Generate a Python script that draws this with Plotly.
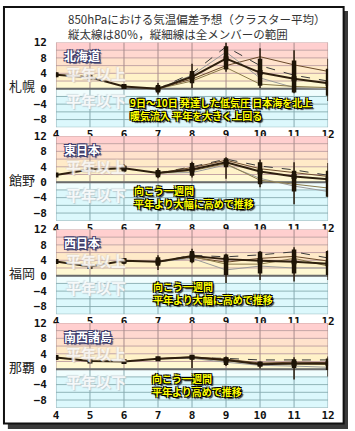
import plotly.graph_objects as go

W, H = 355, 431
days = [4, 5, 6, 7, 8, 9, 10, 11, 12]
cl_days = [7, 8, 9, 10, 11, 12]

regions = ["北海道", "東日本", "西日本", "南西諸島"]
stations = ["札幌", "館野", "福岡", "那覇"]

# cluster-average (main) lines
main_sapporo = [3.6, 3.0, 0.6, 0.0, 3.1, 7.8, 4.2, 2.6, 1.4]
main_tateno = [1.9, 3.3, 3.6, 2.4, 3.3, 5.2, 2.8, 1.5, 0.8]
main_fukuoka = [3.7, 2.4, 3.9, 3.6, 5.1, 4.3, 3.9, 3.6, 3.1]
main_naha = [3.0, 2.1, 2.0, 2.7, 3.1, 2.4, 1.3, 1.5, 1.5]

# full member range (thin vertical lines)
full_lo_sapporo = [3.0, 2.6, 0.0, -1.5, 0.2, 4.4, 0.2, -1.2, -3.2]
full_hi_sapporo = [4.3, 3.5, 1.2, 1.5, 6.5, 12.0, 10.5, 10.0, 7.8]
full_lo_tateno = [1.6, 2.9, 2.4, 1.0, 1.2, 0.9, -1.3, -5.7, -3.9]
full_hi_tateno = [2.1, 3.7, 4.6, 3.6, 5.3, 6.5, 5.9, 5.2, 5.0]
full_lo_fukuoka = [3.5, 2.1, 3.0, 1.5, 3.2, -1.9, -1.1, -1.5, -1.1]
full_hi_fukuoka = [3.9, 2.7, 4.6, 5.3, 7.0, 5.7, 6.4, 7.4, 6.6]
full_lo_naha = [2.8, 1.9, 1.8, 2.2, 0.3, 0.8, 0.2, -2.7, -1.9]
full_hi_naha = [3.2, 2.3, 2.2, 3.2, 3.6, 3.3, 2.0, 3.1, 3.3]

# 80% range (thick vertical bars)
p80_lo_sapporo = [3.2, 2.8, 0.2, -1.0, 1.4, 5.0, 0.8, -1.0, -1.8]
p80_hi_sapporo = [4.1, 3.3, 1.0, 1.0, 4.6, 11.0, 7.8, 7.3, 5.2]
p80_lo_tateno = [1.8, 3.0, 2.7, 1.3, 1.7, 3.9, -0.5, -2.4, -3.8]
p80_hi_tateno = [2.0, 3.5, 4.3, 3.2, 5.0, 6.2, 5.2, 3.0, 3.0]
p80_lo_fukuoka = [3.6, 2.2, 3.1, 2.6, 3.5, 0.2, 0.6, 0.6, 0.2]
p80_hi_fukuoka = [3.8, 2.6, 4.5, 4.8, 6.4, 5.5, 6.2, 6.8, 6.4]
p80_lo_naha = [2.9, 2.0, 1.9, 2.4, 2.6, 1.1, 0.8, 0.3, -0.2]
p80_hi_naha = [3.1, 2.2, 2.1, 3.0, 3.6, 3.1, 1.9, 2.6, 2.8]

# other cluster-average lines (days 7-12)
clA_sapporo = [0.0, 4.0, 10.9, 6.0, 3.5, 2.0]
clB_sapporo = [0.0, 2.5, 6.0, 8.3, 6.2, 4.5]
clC_sapporo = [0.0, 3.5, 9.5, 2.8, 0.3, 0.0]
clD_sapporo = [0.0, 2.0, 5.5, 1.2, 0.6, 0.3]
clA_tateno = [2.4, 4.0, 6.0, 4.2, 3.2, 1.8]
clB_tateno = [2.4, 3.8, 5.7, 3.5, 2.5, 1.5]
clC_tateno = [2.4, 2.5, 4.5, 1.0, -1.0, -2.4]
clD_tateno = [2.4, 3.0, 4.8, 0.5, -0.5, -1.5]
clA_fukuoka = [3.6, 5.3, 4.9, 5.4, 6.2, 4.6]
clB_fukuoka = [3.6, 4.8, 3.5, 4.5, 5.0, 3.8]
clC_fukuoka = [3.6, 4.5, 1.5, 2.5, 2.0, 2.0]
clD_fukuoka = [3.6, 5.0, 3.0, 3.0, 4.5, 2.5]
clA_naha = [2.7, 3.0, 2.8, 2.4, 2.4, 2.4]
clB_naha = [2.7, 3.2, 2.6, 1.6, 1.8, 1.7]
clC_naha = [2.7, 2.8, 1.8, 1.0, 0.8, 0.5]
clD_naha = [2.7, 3.1, 2.2, 1.4, 1.3, 1.2]

notes = [
    ["9日～10日 発達した低気圧 日本海を北上", "暖気流入 平年を大きく上回る"],
    ["向こう一週間", "平年より大幅に高めで推移"],
    ["向こう一週間", "平年より大幅に高めで推移"],
    ["向こう一週間", "平年より高めで推移"],
]
title_lines = ["850hPaにおける気温偏差予想（クラスター平均）", "縦太線は80％，縦細線は全メンバーの範囲"]

ytick_vals = [12, 8, 4, 0, -4, -8]
ytick_text = ["12", "8", "4", "0", "−4", "−8"]

panels = [
    dict(main=main_sapporo, flo=full_lo_sapporo, fhi=full_hi_sapporo, plo=p80_lo_sapporo, phi=p80_hi_sapporo,
         cl=[clA_sapporo, clB_sapporo, clC_sapporo, clD_sapporo]),
    dict(main=main_tateno, flo=full_lo_tateno, fhi=full_hi_tateno, plo=p80_lo_tateno, phi=p80_hi_tateno,
         cl=[clA_tateno, clB_tateno, clC_tateno, clD_tateno]),
    dict(main=main_fukuoka, flo=full_lo_fukuoka, fhi=full_hi_fukuoka, plo=p80_lo_fukuoka, phi=p80_hi_fukuoka,
         cl=[clA_fukuoka, clB_fukuoka, clC_fukuoka, clD_fukuoka]),
    dict(main=main_naha, flo=full_lo_naha, fhi=full_hi_naha, plo=p80_lo_naha, phi=p80_hi_naha,
         cl=[clA_naha, clB_naha, clC_naha, clD_naha]),
]

# ---- layout geometry (pixels) ----
X0, X1 = 54.5, 334.5
tops = [37.0, 131.8, 226.6, 321.4]
PH = 86.0
YMIN, YMAX = -10, 12


def pxx(x):
    return x / W


def pxy(y):
    return 1 - y / H


cl_styles = [
    dict(color="#3a3a3a", width=1, dash="dash"),
    dict(color="#6b4a2a", width=1),
    dict(color="#9a9a9a", width=1),
    dict(color="#8a7a4a", width=1),
]

bands = [
    (10, 12, "#ffcfcf"), (8, 10, "#ffd8d0"), (6, 8, "#ffe2cc"), (4, 6, "#ffeac8"),
    (2, 4, "#fff2c8"), (0, 2, "#fff8d2"), (-2, 0, "#f0fdfd"), (-10, -2, "#dcf8fc"),
]

fig = go.Figure()
shapes = []
annotations = []
JP = "Noto Sans CJK JP"
NUMF = "DejaVu Sans Mono"

# frame with shadow
shapes.append(dict(type="rect", xref="paper", yref="paper", x0=pxx(350.5), x1=pxx(355), y0=pxy(5), y1=pxy(429),
                   fillcolor="#3a3a3a", line=dict(width=0), layer="below"))
shapes.append(dict(type="rect", xref="paper", yref="paper", x0=pxx(5), x1=pxx(355), y0=pxy(423.5), y1=pxy(429),
                   fillcolor="#3a3a3a", line=dict(width=0), layer="below"))
shapes.append(dict(type="rect", xref="paper", yref="paper", x0=pxx(1), x1=pxx(350.5), y0=pxy(1), y1=pxy(423.5),
                   fillcolor="rgba(0,0,0,0)", line=dict(color="#111", width=2), layer="above"))

for i, p in enumerate(panels):
    n = i + 1
    xa, ya = f"x{n}" if n > 1 else "x", f"y{n}" if n > 1 else "y"
    top = tops[i]
    bot = top + PH
    fig.update_layout(**{
        f"xaxis{n if n > 1 else ''}": dict(
            domain=[pxx(X0), pxx(X1)], range=[4, 12], anchor=ya, tickvals=days,
            ticktext=[str(d) for d in days], showgrid=False, zeroline=False, showline=False,
            ticks="", ticklabelstandoff=-1,
            tickfont=dict(family=NUMF, size=11, color="#111", weight="bold"), fixedrange=True),
        f"yaxis{n if n > 1 else ''}": dict(
            domain=[pxy(bot), pxy(top)], range=[YMIN, YMAX], anchor=xa, tickvals=ytick_vals,
            ticktext=ytick_text, showgrid=False, zeroline=False, showline=False, ticks="",
            ticklabelstandoff=8,
            tickfont=dict(family=NUMF, size=11, color="#111", weight="bold"), fixedrange=True),
    })
    for (lo, hi, c) in bands:
        shapes.append(dict(type="rect", xref=xa, yref=ya, x0=4, x1=12, y0=lo, y1=hi, fillcolor=c,
                           line=dict(width=0), layer="below"))
    for v in range(-10, 13, 2):
        col = "#c4a4a4" if v > 0 else "#90b4b8"
        shapes.append(dict(type="line", xref=xa, yref=ya, x0=4, x1=12, y0=v, y1=v,
                           line=dict(color=col, width=1), layer="below"))
    for d in days:
        shapes.append(dict(type="line", xref=xa, yref=ya, x0=d, x1=d, y0=0, y1=12,
                           line=dict(color="#a88c8c", width=1), layer="below"))
        shapes.append(dict(type="line", xref=xa, yref=ya, x0=d, x1=d, y0=-10, y1=0,
                           line=dict(color="#88aab0", width=1), layer="below"))
    shapes.append(dict(type="line", xref=xa, yref=ya, x0=4, x1=12, y0=0, y1=0,
                       line=dict(color="#6a6a6a", width=2), layer="below"))

    # watermark texts
    annotations.append(dict(text="<b>平年以上</b>", x=pxx(63), y=pxy(top + 31), xref="paper", yref="paper",
                            xanchor="left", yanchor="middle", showarrow=False,
                            font=dict(family=JP, size=15, color="rgba(255,255,255,0.75)",
                                      shadow="1px 1px 1px #d0c4b8, -1px -1px 1px #e0d8cc")))
    annotations.append(dict(text="<b>平年以下</b>", x=pxx(63), y=pxy(top + 59), xref="paper", yref="paper",
                            xanchor="left", yanchor="middle", showarrow=False,
                            font=dict(family=JP, size=15, color="rgba(255,255,255,0.85)",
                                      shadow="1px 1px 1px #b8c8cc, -1px -1px 1px #d0dcdf")))

    # cluster lines
    for cl, st in zip(p["cl"], cl_styles):
        fig.add_trace(go.Scatter(x=cl_days, y=cl, mode="lines", line=st, xaxis=xa, yaxis=ya,
                                 hoverinfo="skip", showlegend=False))
    # main line
    fig.add_trace(go.Scatter(x=days, y=p["main"], mode="lines+markers",
                             line=dict(color="#2e1f0e", width=2),
                             marker=dict(symbol="square", size=5, color="#1a1208"),
                             xaxis=xa, yaxis=ya, hoverinfo="skip", showlegend=False))
    # full range thin lines
    fx, fy = [], []
    for d, lo, hi in zip(days, p["flo"], p["fhi"]):
        fx += [d, d, None]
        fy += [lo, hi, None]
    fig.add_trace(go.Scatter(x=fx, y=fy, mode="lines", line=dict(color="#2a1c0c", width=1.5),
                             xaxis=xa, yaxis=ya, hoverinfo="skip", showlegend=False))
    # 80% thick bars
    bx, by = [], []
    for d, lo, hi in zip(days, p["plo"], p["phi"]):
        bx += [d, d, None]
        by += [lo, hi, None]
    fig.add_trace(go.Scatter(x=bx, y=by, mode="lines", line=dict(color="#1e1406", width=4.5),
                             xaxis=xa, yaxis=ya, hoverinfo="skip", showlegend=False))

    # region label
    annotations.append(dict(text=f"<b>{regions[i]}</b>", x=pxx(61), y=pxy(top + 13.5), xref="paper", yref="paper",
                            xanchor="left", yanchor="middle", showarrow=False,
                            font=dict(family=JP, size=12, color="#ffffff",
                                      shadow="1px 1px 0 #3c3c6c, -1px -1px 0 #3c3c6c, 1px -1px 0 #3c3c6c, -1px 1px 0 #3c3c6c, 2px 2px 1px #50507a")))
    # station label
    annotations.append(dict(text=stations[i], x=pxx(19.5), y=pxy(top + 44), xref="paper", yref="paper",
                            xanchor="center", yanchor="middle", showarrow=False,
                            font=dict(family=JP, size=13, color="#222")))

note_pos = [(129, 104), (133, 193.5), (152.5, 291.3), (151.5, 384.5)]
for (x, yc), lines in zip(note_pos, notes):
    annotations.append(dict(text="<br>".join(f"<b>{t}</b>" for t in lines), x=pxx(x), y=pxy(yc),
                            xref="paper", yref="paper", xanchor="left", yanchor="middle", align="left",
                            showarrow=False,
                            font=dict(family=JP, size=10, color="#ffff00",
                                      shadow="1px 1px 0 #000, -1px -1px 0 #000, 1px -1px 0 #000, -1px 1px 0 #000, 2px 2px 1px #333")))

annotations.append(dict(text="<br>".join(title_lines), x=pxx(65), y=pxy(20.5), xref="paper",
                        yref="paper", xanchor="left", yanchor="middle", align="left", showarrow=False,
                        font=dict(family=JP, size=11.5, color="#333")))

fig.update_layout(width=W, height=H, margin=dict(l=0, r=0, t=0, b=0), paper_bgcolor="white",
                  plot_bgcolor="rgba(0,0,0,0)", shapes=shapes, annotations=annotations, showlegend=False)
fig.write_html("out.html", config=dict(displayModeBar=False))
